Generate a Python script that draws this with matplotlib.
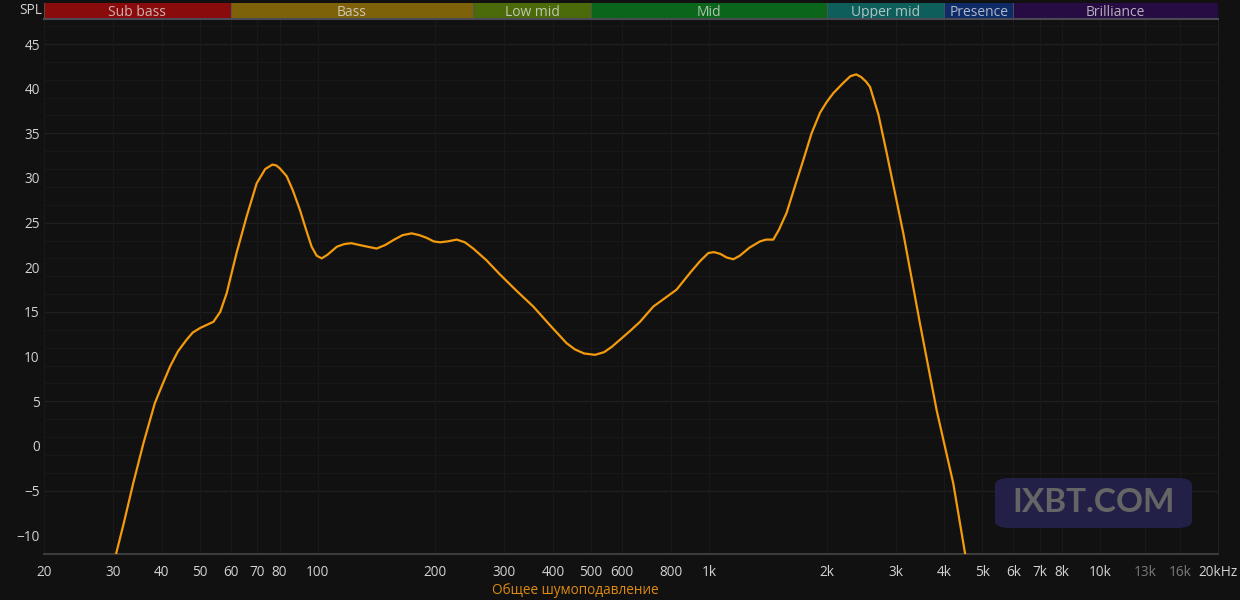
import matplotlib
matplotlib.use("Agg")
import matplotlib.pyplot as plt
from matplotlib.patches import FancyBboxPatch

plt.rcParams['font.family'] = ['Open Sans', 'DejaVu Sans']

# frequency response (Hz, dB SPL)
freq = [30.2, 32.0, 33.8, 35.9, 38.4, 40.0, 42.0, 44.0, 46.3, 48.0, 50.1, 52.1,
        54.2, 56.4, 58.6, 62.1, 65.9, 69.9, 73.5, 76.7, 78.5, 80.0, 83.4, 86.5,
        90.2, 93.5, 96.6, 99.5, 102.5, 106, 112, 117, 122, 131, 141.6, 149, 157,
        165, 174, 182, 190, 198, 205.6, 215, 226.8, 238, 250, 270, 292.5, 322,
        356, 393, 433, 455, 480, 511.8, 540, 565, 593, 630, 667, 721, 775, 827,
        900, 950, 997, 1030, 1070, 1110, 1155, 1200, 1270, 1351, 1400, 1461,
        1510, 1580, 1660, 1743, 1830, 1923, 2000, 2080, 2200, 2300, 2380, 2450,
        2520, 2581, 2712, 2847, 3140, 3463, 3820, 4213, 4514, 4600]
spl = [-13.0, -8.6, -4.2, 0.3, 4.8, 6.7, 8.9, 10.6, 11.9, 12.7, 13.2, 13.55,
       13.9, 15.0, 17.1, 21.6, 25.7, 29.4, 31.0, 31.5, 31.4, 31.1, 30.2, 28.6,
       26.4, 24.2, 22.3, 21.3, 21.0, 21.4, 22.3, 22.6, 22.7, 22.4, 22.1, 22.5, 23.1,
       23.6, 23.8, 23.6, 23.3, 22.9, 22.8, 22.9, 23.1, 22.8, 22.1, 20.8, 19.2, 17.4,
       15.6, 13.5, 11.5, 10.8, 10.35, 10.2, 10.5, 11.1, 11.9, 12.9, 13.9, 15.6, 16.6, 17.5,
       19.5, 20.7, 21.6, 21.7, 21.5, 21.1, 20.9, 21.3, 22.2, 22.9, 23.1, 23.1,
       24.2, 26.1, 29.1, 32.0, 35.0, 37.3, 38.5, 39.5, 40.6, 41.4, 41.6, 41.3,
       40.8, 40.2, 37.1, 32.8, 23.8, 13.7, 4.0, -4.2, -12.0, -14.0]

band_names = ['Sub bass', 'Bass', 'Low mid', 'Mid', 'Upper mid', 'Presence', 'Brilliance']
band_edges = [20, 60, 250, 500, 2000, 4000, 6000, 20000]
band_colors = ['#8a0b0b', '#7e620a', '#4b6b0b', '#0b651a', '#0e5f5b', '#0d2b66', '#260c42']

xticks = [20, 30, 40, 50, 60, 70, 80, 100, 200, 300, 400, 500, 600, 800,
          1000, 2000, 3000, 4000, 5000, 6000, 7000, 8000, 10000, 13000, 16000, 20000]
xlabels = ['20', '30', '40', '50', '60', '70', '80', '100', '200', '300', '400', '500',
           '600', '800', '1k', '2k', '3k', '4k', '5k', '6k', '7k', '8k', '10k',
           '13k', '16k', '20kHz']
yticks = [-10, -5, 0, 5, 10, 15, 20, 25, 30, 35, 40, 45]

bg = '#111111'
fig = plt.figure(figsize=(12.4, 6), dpi=100, facecolor=bg)

L, R = 44 / 1240, 1218 / 1240
ax = fig.add_axes([L, 46 / 600, R - L, (554 - 19) / 600])
ax.set_facecolor(bg)
ax.set_xscale('log')
ax.set_xlim(20, 20000)
ax.set_ylim(-12.1, 47.8)

# grid
for v in range(-5, 48, 2):
    ax.axhline(v, color='#181818', lw=0.8, zorder=0)
for v in range(-5, 48, 10):
    ax.axhline(v, color='#1f1f1f', lw=1.0, zorder=0)
for f in xticks:
    ax.axvline(f, color='#191919', lw=0.8, zorder=0)

ax.plot(freq, spl, color='#f39a0d', lw=1.6, solid_joinstyle='round', zorder=3)

ax.set_xticks(xticks)
ax.set_xticklabels(xlabels)
ax.minorticks_off()
ax.set_yticks(yticks)
ax.tick_params(axis='both', length=0, colors='#d2d2d2', labelsize=9.8)
ax.tick_params(axis='x', pad=8)
ax.tick_params(axis='y', pad=3)
for lab in ax.get_xticklabels():
    if lab.get_text() in ('13k', '16k'):
        lab.set_color('#7a7a7a')

for s in ['top', 'left']:
    ax.spines[s].set_visible(False)
ax.spines['bottom'].set_color('#3c3c3c')
ax.spines['bottom'].set_linewidth(1.5)
ax.spines['right'].set_color('#222222')

# frequency band strip
axb = fig.add_axes([L, (600 - 18) / 600, R - L, 15 / 600])
axb.set_xscale('log')
axb.set_xlim(20, 20000)
axb.set_ylim(0, 1)
axb.axis('off')
for name, lo, hi, c in zip(band_names, band_edges[:-1], band_edges[1:], band_colors):
    axb.axvspan(lo, hi, color=c, lw=0)
    axb.axvline(lo, color='#555555', lw=0.6)
    axb.text((lo * hi) ** 0.5, 0.4, name, ha='center', va='center',
             color='#e6e6e6', alpha=0.75, fontsize=10)
fig.add_artist(plt.Line2D([L, R], [(600 - 19) / 600] * 2, color='#4a4a55', lw=1.5))

fig.text(42 / 1240, 1 - 10 / 600, 'SPL', ha='right', va='center', color='#d2d2d2', fontsize=9.8)
fig.text(575 / 1240, 1 - 590 / 600, 'Общее шумоподавление', ha='center', va='center',
         color='#e08a10', fontsize=9.8)

# watermark
box = FancyBboxPatch((995 / 1240, 1 - 528 / 600), 197 / 1240, 50 / 600,
                     boxstyle='round,pad=0,rounding_size=0.012', transform=fig.transFigure,
                     facecolor='#25214c', edgecolor='none', alpha=0.95, zorder=5)
fig.add_artist(box)
fig.text(1094 / 1240, 1 - 503 / 600, 'IXBT.COM', ha='center', va='center',
         color='#656565', fontsize=24, fontweight='bold', family=['Lato', 'DejaVu Sans'],
         zorder=6)

fig.savefig('out.png', dpi=100, facecolor=bg)
